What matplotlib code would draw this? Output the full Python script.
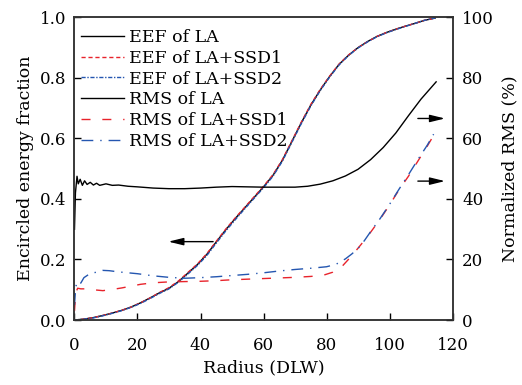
import numpy as np
import matplotlib.pyplot as plt

# encircled energy fraction vs radius (DLW)
eef_r = [0, 3, 6, 9, 12, 15, 18, 21, 24, 27, 30, 33, 36, 39, 42, 45, 48, 51, 54,
         57, 60, 63, 66, 69, 72, 75, 78, 81, 84, 87, 90, 93, 96, 99, 102, 105,
         108, 111, 114.5]
eef_la = [0, 0.003, 0.008, 0.015, 0.023, 0.032, 0.043, 0.057, 0.073, 0.09, 0.105,
          0.127, 0.155, 0.183, 0.217, 0.258, 0.298, 0.335, 0.37, 0.405, 0.44,
          0.478, 0.528, 0.59, 0.652, 0.71, 0.76, 0.805, 0.845, 0.875, 0.9, 0.92,
          0.937, 0.95, 0.961, 0.971, 0.98, 0.99, 0.998]
eef_ssd1 = [0, 0.003, 0.008, 0.015, 0.023, 0.032, 0.043, 0.057, 0.073, 0.091, 0.107,
            0.129, 0.157, 0.185, 0.219, 0.26, 0.3, 0.337, 0.372, 0.407, 0.442,
            0.48, 0.53, 0.592, 0.654, 0.712, 0.762, 0.806, 0.846, 0.876, 0.9, 0.92,
            0.937, 0.95, 0.961, 0.971, 0.98, 0.99, 0.998]
eef_ssd2 = [0, 0.003, 0.007, 0.014, 0.022, 0.031, 0.042, 0.055, 0.071, 0.088, 0.103,
            0.125, 0.152, 0.18, 0.213, 0.254, 0.294, 0.331, 0.367, 0.402, 0.437,
            0.475, 0.525, 0.587, 0.649, 0.707, 0.758, 0.803, 0.843, 0.874, 0.899,
            0.919, 0.936, 0.949, 0.96, 0.97, 0.98, 0.99, 0.998]

# normalized RMS (%) vs radius
rms_la_r = [0, 0.3, 0.8, 1.2, 1.8, 2.5, 3.2, 4, 5, 6, 7, 8, 10, 12, 14, 17, 20, 25,
            30, 35, 40, 45, 50, 55, 60, 65, 70, 74, 78, 82, 86, 90, 94, 98, 102,
            106, 110, 114.8]
rms_la = [30, 42, 47.5, 45, 46.5, 44.5, 46, 44.8, 45.5, 44.6, 45.2, 44.5, 45, 44.5,
          44.6, 44.2, 44, 43.6, 43.4, 43.4, 43.6, 43.9, 44.1, 44.0, 43.9, 43.9,
          43.9, 44.2, 44.9, 46, 47.6, 49.8, 53, 57, 61.8, 67.5, 73, 78.7]

rms_ssd1_r = [0, 0.4, 1, 2, 4, 6, 9, 12, 15, 18, 21, 25, 30, 35, 40, 45, 50, 55, 60,
              65, 70, 75, 79, 82, 85, 88, 91, 94, 97, 100, 103, 106, 109, 112, 114]
rms_ssd1 = [3, 9, 10.5, 10.3, 10.3, 10, 9.7, 10.1, 10.6, 11.2, 11.8, 12.3, 12.6,
            12.7, 12.8, 13.0, 13.3, 13.5, 13.7, 13.9, 14.1, 14.4, 14.8, 15.8, 17.8,
            21.2, 25, 29, 33.3, 38, 43, 47.5, 52.5, 57.5, 61]

rms_ssd2_r = [0, 0.4, 1, 2, 3, 5, 7, 9, 11, 14, 17, 20, 25, 30, 35, 40, 45, 50, 55,
              60, 65, 70, 75, 80, 83, 86, 88, 90, 92, 94, 97, 100, 103, 106, 109,
              112, 114]
rms_ssd2 = [5, 11, 12.8, 12.2, 14, 15.4, 15.8, 16.4, 16.3, 15.9, 15.6, 15.3, 14.6,
            14.1, 13.8, 14.0, 14.3, 14.7, 15.1, 15.6, 16.2, 16.7, 17.1, 17.6, 18.4,
            20.2, 21.8, 23.6, 26.2, 29.2, 33.5, 38.2, 43.2, 48, 53, 57.8, 61.4]

red = '#e8232b'
blue = '#2456b0'

plt.rcParams['font.family'] = ['DejaVu Serif']
plt.rcParams['axes.linewidth'] = 1.1
plt.rcParams['axes.edgecolor'] = '#333333'

fig = plt.figure(figsize=(5.22, 3.85), dpi=100)
ax = fig.add_axes([0.1427, 0.1688, 0.7242, 0.786])
ax2 = ax.twinx()

l1, = ax.plot(eef_r, eef_la, color='black', lw=1.0, label='EEF of LA')
l2, = ax.plot(eef_r, eef_ssd1, color=red, lw=1.0, ls=(0, (3, 2)),
              label='EEF of LA+SSD1')
l3, = ax.plot(eef_r, eef_ssd2, color=blue, lw=1.0, ls=(0, (3, 1.2, 1, 1.2)),
              label='EEF of LA+SSD2')

l4, = ax2.plot(rms_la_r, rms_la, color='black', lw=1.0, label='RMS of LA')
l5, = ax2.plot(rms_ssd1_r, rms_ssd1, color=red, lw=1.0, ls=(0, (6.5, 8.5)),
               label='RMS of LA+SSD1')
l6, = ax2.plot(rms_ssd2_r, rms_ssd2, color=blue, lw=1.0,
               ls=(0, (8.5, 5, 1, 5)), label='RMS of LA+SSD2')

ax.set_xlim(0, 120)
ax.set_ylim(0, 1.0)
ax2.set_ylim(0, 100)
ax.set_xticks([0, 20, 40, 60, 80, 100, 120])
ax.set_yticks([0, 0.2, 0.4, 0.6, 0.8, 1.0])
ax2.set_yticks([0, 20, 40, 60, 80, 100])
ax.yaxis.set_major_formatter(plt.FormatStrFormatter('%.1f'))

ax.tick_params(direction='in', length=5, width=1.0, labelsize=12, pad=6)
ax.tick_params(axis='x', pad=12)
ax2.tick_params(direction='in', length=5, width=1.0, labelsize=12, pad=7)
ax.set_xlabel('Radius (DLW)', fontsize=12.5, labelpad=4)
ax.set_ylabel('Encircled energy fraction', fontsize=12.5, labelpad=4)
ax2.set_ylabel('Normalized RMS (%)', fontsize=12.5, labelpad=5)

arrow = dict(arrowstyle='-|>,head_length=0.9,head_width=0.22', color='black',
             lw=1.0, shrinkA=0, shrinkB=0)
ax.annotate('', xy=(29.8, 0.259), xytext=(44, 0.259), arrowprops=arrow)
ax2.annotate('', xy=(117.6, 66.6), xytext=(109, 66.6), arrowprops=arrow)
ax2.annotate('', xy=(117.6, 45.9), xytext=(109, 45.9), arrowprops=arrow)

ax.legend(handles=[l1, l2, l3, l4, l5, l6], loc='upper left', frameon=False,
          bbox_to_anchor=(0.017, 0.962), fontsize=12.5, handlelength=2.5,
          handletextpad=0.25, labelspacing=0.22, borderaxespad=0, borderpad=0)

fig.savefig('out.png', dpi=100)
